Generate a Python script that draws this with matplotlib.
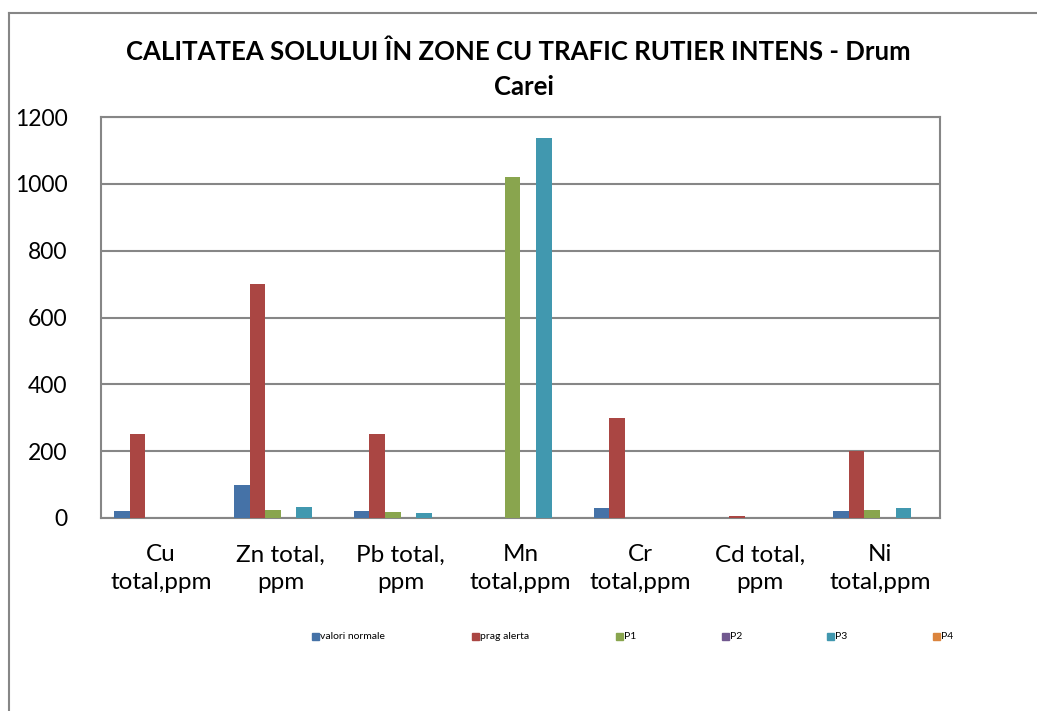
import numpy as np
import matplotlib
matplotlib.use('Agg')
from matplotlib import pyplot as plt
from matplotlib.patches import Rectangle

plt.rcParams['font.family'] = ['Lato', 'DejaVu Sans']

categories = ['Cu\ntotal,ppm', 'Zn total,\nppm', 'Pb total,\nppm', 'Mn\ntotal,ppm',
              'Cr\ntotal,ppm', 'Cd total,\nppm', 'Ni\ntotal,ppm']
series_names = ['valori normale', 'prag alerta', 'P1', 'P2', 'P3', 'P4']
valori_normale = [20, 100, 20, 0, 30, 1, 20]
prag_alerta = [250, 700, 250, 0, 300, 5, 200]
p1 = [0, 24, 17, 1020, 0, 0, 23]
p2 = [0, 0, 0, 0, 0, 0, 0]
p3 = [0, 32, 16, 1137, 0, 0, 30]
p4 = [0, 0, 0, 0, 0, 0, 0]
colors = ['#4572A7', '#AA4643', '#89A54E', '#71588F', '#4198AF', '#DB843D']

series = [valori_normale, prag_alerta, p1, p2, p3, p4]

fig = plt.figure(figsize=(10.37, 7.11), dpi=100)
ax = fig.add_axes([101/1037, 1-518/711, 839/1037, 401/711])

x = np.arange(len(categories))
w = 0.13
for i, s in enumerate(series):
    ax.bar(x - 2.5*w + i*w, s, width=w, color=colors[i], label=series_names[i],
           zorder=3)

ax.set_xlim(-0.5, len(categories) - 0.5)
ax.set_ylim(0, 1200)
ax.set_yticks(range(0, 1201, 200))
ax.yaxis.grid(True, color='#868686', linewidth=1.5, zorder=0)
ax.set_xticks(x)
ax.set_xticklabels(categories, fontsize=17.5, linespacing=1.4)
ax.tick_params(axis='y', labelsize=16.5, length=0, pad=24)
ax.tick_params(axis='x', length=0, pad=19)
for sp in ax.spines.values():
    sp.set_color('#868686')
    sp.set_linewidth(1.5)

fig.text(518/1037, 1-52/711, 'CALITATEA SOLULUI ÎN ZONE CU TRAFIC RUTIER INTENS - Drum',
         ha='center', va='center', fontsize=18.5, fontweight='bold')
fig.text(524/1037, 1-87/711, 'Carei', ha='center', va='center',
         fontsize=18.5, fontweight='bold')

# legend entries
leg_x = [312, 472, 616, 722, 827, 933]
for lx, name, c in zip(leg_x, series_names, colors):
    fig.patches.append(Rectangle((lx/1037, 1-640/711), 7/1037, 7/711,
                                 transform=fig.transFigure, color=c))
    fig.text((lx+8)/1037, 1-636.5/711, name, ha='left', va='center', fontsize=7.5)

# outer chart frame
fig.add_artist(plt.Line2D([9/1037, 9/1037], [0, 1-12.5/711], color='#868686',
                          linewidth=1.5, transform=fig.transFigure))
fig.add_artist(plt.Line2D([9/1037, 1], [1-12.5/711, 1-12.5/711], color='#868686',
                          linewidth=1.5, transform=fig.transFigure))

fig.savefig('out.png', dpi=100)
